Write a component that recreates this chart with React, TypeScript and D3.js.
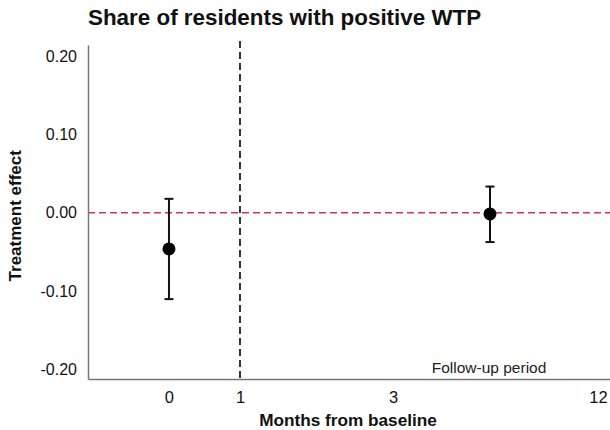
import React, { useEffect, useRef } from "react";
import * as d3 from "d3";

// x positions are plot slots (month labels are not evenly spaced in the original)
const tickLabels = ["0", "1", "3", "12"];
const tickSlots = [0, 1, 3.155, 6.04];

const pointSlots = [0, 4.52];
const estimates = [-0.0463, -0.0015];
const lowerCI = [-0.1105, -0.0375];
const upperCI = [0.0178, 0.0335];

const yTicks = [0.2, 0.1, 0, -0.1, -0.2];
const cutoffSlot = 1;
const followUpSlot = 3.7;

export default function App() {
  const ref = useRef<SVGSVGElement>(null);

  const width = 610;
  const height = 430;
  const left = 88;
  const top = 45;
  const bottom = 379;
  const font = "'Liberation Sans', Arial, Helvetica, sans-serif";

  useEffect(() => {
    const svg = d3.select(ref.current);
    svg.selectAll("*").remove();

    const x = d3.scaleLinear().domain([-1.14, 6.21]).range([left, width]);
    const y = d3.scaleLinear().domain([-0.2127, 0.2146]).range([bottom, top]);

    // title
    svg.append("text")
      .attr("x", 88).attr("y", 25)
      .attr("font-family", font).attr("font-size", 22.4).attr("font-weight", "bold")
      .attr("fill", "#111")
      .text("Share of residents with positive WTP");

    // zero reference line
    svg.append("line")
      .attr("x1", left).attr("x2", width)
      .attr("y1", y(0)).attr("y2", y(0))
      .attr("stroke", "#d6334c").attr("stroke-width", 1.3)
      .attr("stroke-dasharray", "7,4");

    // vertical cutoff line
    svg.append("line")
      .attr("x1", x(cutoffSlot)).attr("x2", x(cutoffSlot))
      .attr("y1", top - 4).attr("y2", bottom)
      .attr("stroke", "#333").attr("stroke-width", 2)
      .attr("stroke-dasharray", "7,4");

    // y axis
    const yAxis = svg.append("g")
      .attr("transform", `translate(${left},0)`)
      .call(d3.axisLeft(y).tickValues(yTicks).tickSize(0).tickPadding(11)
        .tickFormat((d) => (d as number).toFixed(2)));
    yAxis.select(".domain").attr("stroke", "#777").attr("stroke-width", 1.5);
    yAxis.selectAll("text").attr("font-family", font).attr("font-size", 16).attr("fill", "#111");

    // x axis
    const xAxis = svg.append("g")
      .attr("transform", `translate(0,${bottom})`)
      .call(d3.axisBottom(x).tickValues(tickSlots).tickSize(0).tickPadding(12)
        .tickFormat((d, i) => tickLabels[i]));
    xAxis.select(".domain").attr("stroke", "#777").attr("stroke-width", 1.5);
    xAxis.selectAll("text").attr("font-family", font).attr("font-size", 16.5).attr("fill", "#111");

    // axis titles
    svg.append("text")
      .attr("x", 348).attr("y", 426)
      .attr("text-anchor", "middle")
      .attr("font-family", font).attr("font-size", 17.2).attr("font-weight", "bold")
      .attr("fill", "#111")
      .text("Months from baseline");

    svg.append("text")
      .attr("transform", `translate(21,${y(0) + 3}) rotate(-90)`)
      .attr("text-anchor", "middle")
      .attr("font-family", font).attr("font-size", 17).attr("font-weight", "bold")
      .attr("fill", "#111")
      .text("Treatment effect");

    // follow-up label
    svg.append("text")
      .attr("x", x(followUpSlot)).attr("y", 373)
      .attr("font-family", font).attr("font-size", 15.5)
      .attr("fill", "#222")
      .text("Follow-up period");

    // error bars and points
    const g = svg.append("g");
    pointSlots.forEach((s, i) => {
      const cx = x(s);
      g.append("line")
        .attr("x1", cx).attr("x2", cx)
        .attr("y1", y(lowerCI[i])).attr("y2", y(upperCI[i]))
        .attr("stroke", "#111").attr("stroke-width", 2);
      [lowerCI[i], upperCI[i]].forEach((v) => {
        g.append("line")
          .attr("x1", cx - 4.5).attr("x2", cx + 4.5)
          .attr("y1", y(v)).attr("y2", y(v))
          .attr("stroke", "#111").attr("stroke-width", 2);
      });
      g.append("circle")
        .attr("cx", cx).attr("cy", y(estimates[i]))
        .attr("r", 6.5).attr("fill", "#000");
    });
  }, []);

  return (
    <svg
      ref={ref}
      width={width}
      height={height}
      style={{ position: "absolute", left: 0, top: 0, background: "#fff" }}
    />
  );
}
